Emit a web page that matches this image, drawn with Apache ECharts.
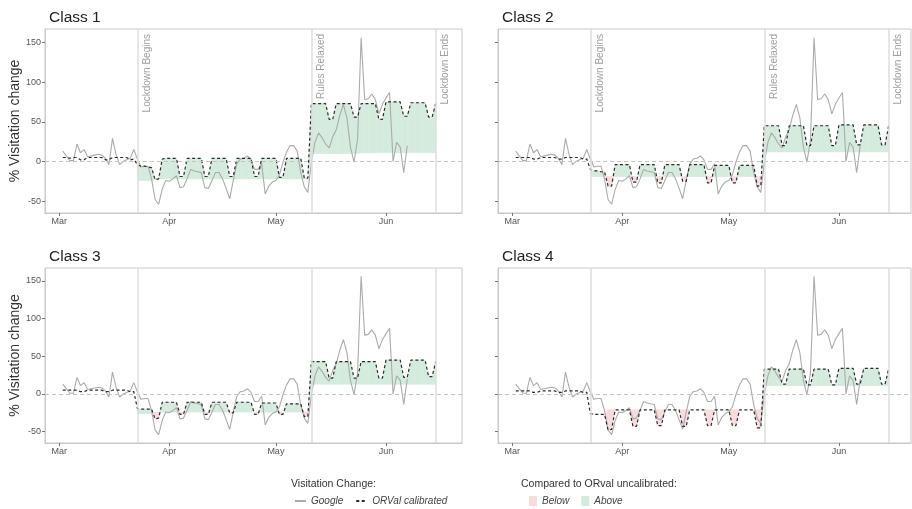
<!DOCTYPE html>
<html>
<head>
<meta charset="utf-8">
<title>Visitation change by class</title>
<script src="https://cdn.jsdelivr.net/npm/echarts@6/dist/echarts.min.js"></script>
<style>
  html, body { margin: 0; padding: 0; background: #fff; }
  #chart { width: 912px; height: 509px; }
</style>
</head>
<body>
<div id="chart"></div>
<script>
// x values are days counted from 1 March 2020 (day 0); every series starts on day 1
const firstDay = 1;
const monthTickDays = [0, 31, 61, 92];
const monthLabels = ['Mar', 'Apr', 'May', 'Jun'];
const yTicks = [-50, 0, 50, 100, 150];
const eventDays = [22, 71, 106];
const eventLabels = ['Lockdown Begins', 'Rules Relaxed', 'Lockdown Ends'];
const classNames = ['Class 1', 'Class 2', 'Class 3', 'Class 4'];

// Google mobility, one value a day (same in every panel)
const google = [
  13, 7, 1, 1, 22, 11, 15,
  6, 7, 8, 9, 8, 4, -4,
  29, 9, -4, 0, 2, 4, 15,
  3, -7, -6, -6, -22, -48, -54,
  -35, -24, -25, -22, -18, -33, -32,
  -22, -10, -12, -13, -14, -33, -34,
  -24, -14, -14, -22, -34, -47, -24,
  -3, 3, 4, 7, 2, -10, -10,
  -3, -41, -31, -26, -24, -17, -1,
  12, 20, 20, 13, -14, -32, -39,
  -1, 24, 36, 30, 22, 17, 31,
  40, 58, 72, 55, 18, -1, 28,
  156, 78, 79, 85, 78, 60, 72,
  80, 87, 0, 24, 18, -14, 20
];

// ORVal calibrated, one row a week (Mon..Sun)
const calibrated1 = [
  5, 5, 4, 5, 5, 2, 2,
  5, 5, 5, 5, 5, 2, 2,
  5, 5, 5, 5, 5, 2, 3,
  -4, -6, -6, -7, -8, -23, -22,
  3, 4, 4, 4, 4, -19, -19,
  4, 4, 4, 4, 4, -19, -19,
  4, 4, 4, 4, 4, -19, -19,
  4, 4, 4, 4, 4, -19, -19,
  4, 4, 4, 4, 4, -20, -20,
  4, 4, 4, 4, 4, -21, -21,
  73, 73, 73, 73, 73, 53, 53,
  73, 73, 73, 73, 73, 56, 56,
  73, 73, 73, 73, 73, 53, 53,
  75, 75, 75, 75, 75, 57, 57,
  74, 74, 74, 74, 74, 56, 56,
  73
];
const calibrated2 = [
  5, 5, 5, 5, 5, 3, 3,
  5, 5, 5, 5, 5, 3, 3,
  5, 5, 5, 5, 5, 3, 3,
  -10, -12, -12, -13, -13, -31, -31,
  -4, -4, -4, -4, -4, -26, -26,
  -4, -4, -4, -4, -4, -27, -27,
  -4, -4, -4, -4, -4, -25, -25,
  -4, -4, -4, -4, -4, -27, -27,
  -5, -5, -5, -5, -5, -27, -27,
  -5, -5, -5, -5, -5, -31, -31,
  45, 45, 45, 45, 45, 20, 20,
  45, 45, 45, 45, 45, 20, 20,
  45, 45, 45, 45, 45, 20, 20,
  46, 46, 46, 46, 46, 21, 21,
  46, 46, 46, 46, 46, 21, 21,
  45
];
const calibrated3 = [
  5, 5, 5, 5, 5, 3, 3,
  5, 5, 5, 5, 5, 3, 3,
  5, 5, 5, 5, 5, 3, 3,
  -19, -20, -20, -20, -20, -33, -32,
  -11, -11, -11, -11, -11, -27, -27,
  -11, -11, -11, -11, -11, -27, -27,
  -11, -11, -11, -11, -11, -25, -25,
  -11, -11, -11, -11, -11, -27, -27,
  -12, -12, -12, -12, -12, -27, -27,
  -13, -13, -13, -13, -13, -30, -30,
  43, 43, 43, 43, 43, 21, 21,
  43, 43, 43, 43, 43, 21, 21,
  43, 43, 43, 43, 43, 21, 21,
  45, 45, 45, 45, 45, 22, 22,
  45, 45, 45, 45, 45, 23, 23,
  43
];
const calibrated4 = [
  4, 4, 4, 4, 4, 2, 2,
  4, 4, 4, 4, 4, 2, 2,
  4, 4, 4, 4, 4, 2, 2,
  -26, -27, -27, -27, -27, -48, -47,
  -21, -21, -21, -21, -21, -43, -43,
  -21, -21, -21, -21, -21, -42, -42,
  -21, -21, -21, -21, -21, -43, -43,
  -21, -21, -21, -21, -21, -42, -42,
  -21, -21, -21, -21, -21, -42, -42,
  -21, -21, -21, -21, -21, -45, -45,
  33, 33, 33, 33, 33, 13, 13,
  33, 33, 33, 33, 33, 12, 12,
  33, 33, 33, 33, 33, 12, 12,
  34, 34, 34, 34, 34, 13, 13,
  34, 34, 34, 34, 34, 13, 13,
  33
];

// ORVal uncalibrated (only used as the other edge of the shaded band)
const uncalibrated1 = [
  null, null, null, null, null, null, null,
  null, null, null, null, null, null, null,
  null, null, null, null, null, null, null,
  -24, -24, -24, -24, -24, -22, -22,
  -22, -22, -22, -22, -22, -22, -22,
  -22, -22, -22, -22, -22, -22, -22,
  -22, -22, -22, -22, -22, -22, -22,
  -22, -22, -22, -22, -22, -22, -22,
  -22, -22, -22, -22, -22, -22, -22,
  -22, -22, -22, -22, -22, -22, -22,
  10, 10, 10, 10, 10, 10, 10,
  10, 10, 10, 10, 10, 10, 10,
  11, 11, 11, 11, 11, 11, 11,
  11, 11, 11, 11, 11, 11, 11,
  11, 11, 11, 11, 11, 11, 11,
  11
];
const uncalibrated2 = [
  null, null, null, null, null, null, null,
  null, null, null, null, null, null, null,
  null, null, null, null, null, null, null,
  -19, -19, -19, -19, -19, -19, -19,
  -19, -19, -19, -19, -19, -19, -19,
  -19, -19, -19, -19, -19, -19, -19,
  -19, -19, -19, -19, -19, -19, -19,
  -19, -19, -19, -19, -19, -19, -19,
  -19, -19, -19, -19, -19, -19, -19,
  -19, -19, -19, -19, -19, -19, -19,
  12, 12, 12, 12, 12, 12, 12,
  12, 12, 12, 12, 12, 12, 12,
  12, 12, 12, 12, 12, 12, 12,
  12, 12, 12, 12, 12, 12, 12,
  12, 12, 12, 12, 12, 12, 12,
  12
];
const uncalibrated3 = [
  null, null, null, null, null, null, null,
  null, null, null, null, null, null, null,
  null, null, null, null, null, null, null,
  -26, -26, -26, -26, -26, -24, -24,
  -24, -24, -24, -24, -24, -24, -24,
  -24, -24, -24, -24, -24, -24, -24,
  -24, -24, -24, -24, -24, -24, -24,
  -24, -24, -24, -24, -24, -24, -24,
  -24, -24, -24, -24, -24, -24, -24,
  -24, -24, -24, -24, -24, -24, -24,
  13, 13, 13, 13, 13, 13, 13,
  13, 13, 13, 13, 13, 13, 13,
  13, 13, 13, 13, 13, 13, 13,
  13, 13, 13, 13, 13, 13, 13,
  13, 13, 13, 13, 13, 13, 13,
  13
];
const uncalibrated4 = [
  null, null, null, null, null, null, null,
  null, null, null, null, null, null, null,
  null, null, null, null, null, null, null,
  -27, -27, -27, -27, -27, -21, -21,
  -21, -21, -21, -21, -21, -21, -21,
  -21, -21, -21, -21, -21, -21, -21,
  -21, -21, -21, -21, -21, -21, -21,
  -21, -21, -21, -21, -21, -21, -21,
  -21, -21, -21, -21, -21, -21, -21,
  -21, -21, -21, -21, -21, -21, -21,
  11, 11, 11, 11, 11, 11, 11,
  11, 11, 11, 11, 11, 11, 11,
  11, 11, 11, 11, 11, 11, 11,
  11, 11, 11, 11, 11, 11, 11,
  11, 11, 11, 11, 11, 11, 11,
  11
];

const calibrated = [calibrated1, calibrated2, calibrated3, calibrated4];
const uncalibrated = [uncalibrated1, uncalibrated2, uncalibrated3, uncalibrated4];

const ABOVE = '#d4ebdd';
const BELOW = '#f7dcdd';
const FONT = 'Liberation Sans, Arial, sans-serif';

const boxes = [
  { left: 45, top: 29, width: 417, height: 184 },
  { left: 498, top: 29, width: 413, height: 184 },
  { left: 45, top: 268, width: 417, height: 175 },
  { left: 498, top: 268, width: 413, height: 175 }
];
const xMax = [113.4, 112.3, 113.4, 112.3];

const toPairs = arr => arr.map((v, i) => [firstDay + i, v]);

// one item per day-to-day step where both edges of the band exist
function bandSegments(cal, unc) {
  const out = [];
  for (let i = 0; i < cal.length - 1; i++) {
    if (unc[i] == null || unc[i + 1] == null) continue;
    out.push([firstDay + i, cal[i], unc[i], firstDay + i + 1, cal[i + 1], unc[i + 1]]);
  }
  return out;
}

function bandRenderer(sign, color) {
  return function (params, api) {
    const x0 = api.value(0), c0 = api.value(1), u0 = api.value(2);
    const x1 = api.value(3), c1 = api.value(4), u1 = api.value(5);
    const d0 = (c0 - u0) * sign, d1 = (c1 - u1) * sign;
    let pts;
    if (d0 >= 0 && d1 >= 0) {
      if (d0 === 0 && d1 === 0) return null;
      pts = [[x0, c0], [x1, c1], [x1, u1], [x0, u0]];
    } else if (d0 <= 0 && d1 <= 0) {
      return null;
    } else {
      const t = d0 / (d0 - d1);
      const xc = x0 + t * (x1 - x0), yc = c0 + t * (c1 - c0);
      pts = d0 > 0 ? [[x0, c0], [xc, yc], [x0, u0]] : [[xc, yc], [x1, c1], [x1, u1]];
    }
    return {
      type: 'polygon',
      shape: { points: pts.map(p => api.coord(p)) },
      style: { fill: color, stroke: color, lineWidth: 0.6 }
    };
  };
}

const grids = [], xAxes = [], yAxes = [], series = [], titles = [];

boxes.forEach((b, k) => {
  const leftCol = k % 2 === 0;
  const topRow = k < 2;
  grids.push(Object.assign({ show: true, borderColor: '#c9c9c9', borderWidth: 1 }, b));
  titles.push({
    text: classNames[k], left: b.left - 1, top: topRow ? 5 : 244,
    textStyle: { fontFamily: FONT, fontSize: 15.5, fontWeight: 'normal', color: '#222' }
  });
  xAxes.push({
    gridIndex: k, type: 'value', min: -4, max: xMax[k],
    axisLine: { show: true, onZero: false, lineStyle: { color: '#c9c9c9' } },
    axisTick: { show: true, length: 3, customValues: monthTickDays, lineStyle: { color: '#777' } },
    axisLabel: {
      customValues: monthTickDays, margin: 4, fontSize: 9, color: '#555', fontFamily: FONT,
      formatter: v => monthLabels[monthTickDays.indexOf(v)]
    },
    splitLine: { show: false }
  });
  yAxes.push({
    gridIndex: k, type: 'value', min: -65, max: 167,
    name: leftCol ? '% Visitation change' : '',
    nameLocation: 'middle', nameGap: 21,
    nameTextStyle: { fontFamily: FONT, fontSize: 14, color: '#333' },
    axisLine: { show: true, onZero: false, lineStyle: { color: '#c9c9c9' } },
    axisTick: { show: true, length: 3, customValues: yTicks, lineStyle: { color: '#777' } },
    axisLabel: {
      show: leftCol, customValues: yTicks, margin: 4, fontSize: 9, color: '#555', fontFamily: FONT
    },
    splitLine: { show: false }
  });

  // reference lines: zero and the three policy dates
  series.push({
    type: 'line', xAxisIndex: k, yAxisIndex: k, data: [], z: 1, silent: true,
    markLine: {
      symbol: 'none', silent: true, animation: false,
      data: [
        { yAxis: 0, lineStyle: { color: '#c4c4c4', type: [4, 3], width: 1 }, label: { show: false } }
      ].concat(eventDays.map((d, j) => ({
        xAxis: d, name: eventLabels[j],
        lineStyle: { color: '#dedede', type: 'solid', width: 1.5 },
        label: {
          show: topRow, formatter: '{b}', position: 'insideEndBottom', distance: 5,
          fontFamily: FONT, fontSize: 10, color: '#a0a0a0'
        }
      })))
    }
  });

  const segs = bandSegments(calibrated[k], uncalibrated[k]);
  series.push({
    name: 'Below', type: 'custom', xAxisIndex: k, yAxisIndex: k, z: 2, clip: true,
    itemStyle: { color: BELOW }, renderItem: bandRenderer(-1, BELOW),
    encode: { x: [0, 3], y: [1, 2, 4, 5] }, data: segs, silent: true
  });
  series.push({
    name: 'Above', type: 'custom', xAxisIndex: k, yAxisIndex: k, z: 2, clip: true,
    itemStyle: { color: ABOVE }, renderItem: bandRenderer(1, ABOVE),
    encode: { x: [0, 3], y: [1, 2, 4, 5] }, data: segs, silent: true
  });
  series.push({
    name: 'Google', type: 'line', xAxisIndex: k, yAxisIndex: k, z: 3,
    data: toPairs(google), symbol: 'none', itemStyle: { color: '#ababab' },
    lineStyle: { color: '#ababab', width: 1.1 }
  });
  series.push({
    name: 'ORVal calibrated', type: 'line', xAxisIndex: k, yAxisIndex: k, z: 4,
    data: toPairs(calibrated[k]), symbol: 'none', itemStyle: { color: '#2b2b2b' },
    lineStyle: { color: '#2b2b2b', width: 1.2, type: [3, 2.5] }
  });
});

titles.push({
  text: 'Visitation Change:', left: 286, top: 474,
  textStyle: { fontFamily: FONT, fontSize: 10.5, fontWeight: 'normal', color: '#333' }
});
titles.push({
  text: 'Compared to ORval uncalibrated:', left: 516, top: 474,
  textStyle: { fontFamily: FONT, fontSize: 10.5, fontWeight: 'normal', color: '#333' }
});

const chart = echarts.init(document.getElementById('chart'));
chart.setOption({
  animation: false,
  backgroundColor: '#fff',
  title: titles,
  legend: [
    {
      data: ['Google', 'ORVal calibrated'], left: 289, top: 491,
      itemWidth: 11, itemHeight: 10, itemGap: 12, selectedMode: false,
      itemStyle: { color: 'rgba(0,0,0,0)', borderColor: 'rgba(0,0,0,0)', borderWidth: 0, opacity: 0 },
      textStyle: { fontFamily: FONT, fontSize: 10, fontStyle: 'italic', color: '#444' }
    },
    {
      data: [
        { name: 'Below', itemStyle: { color: BELOW } },
        { name: 'Above', itemStyle: { color: ABOVE } }
      ],
      left: 524, top: 491, icon: 'rect', itemWidth: 8, itemHeight: 10, itemGap: 12,
      selectedMode: false,
      textStyle: { fontFamily: FONT, fontSize: 10, fontStyle: 'italic', color: '#444' }
    }
  ],
  grid: grids,
  xAxis: xAxes,
  yAxis: yAxes,
  series: series
});
</script>
</body>
</html>
